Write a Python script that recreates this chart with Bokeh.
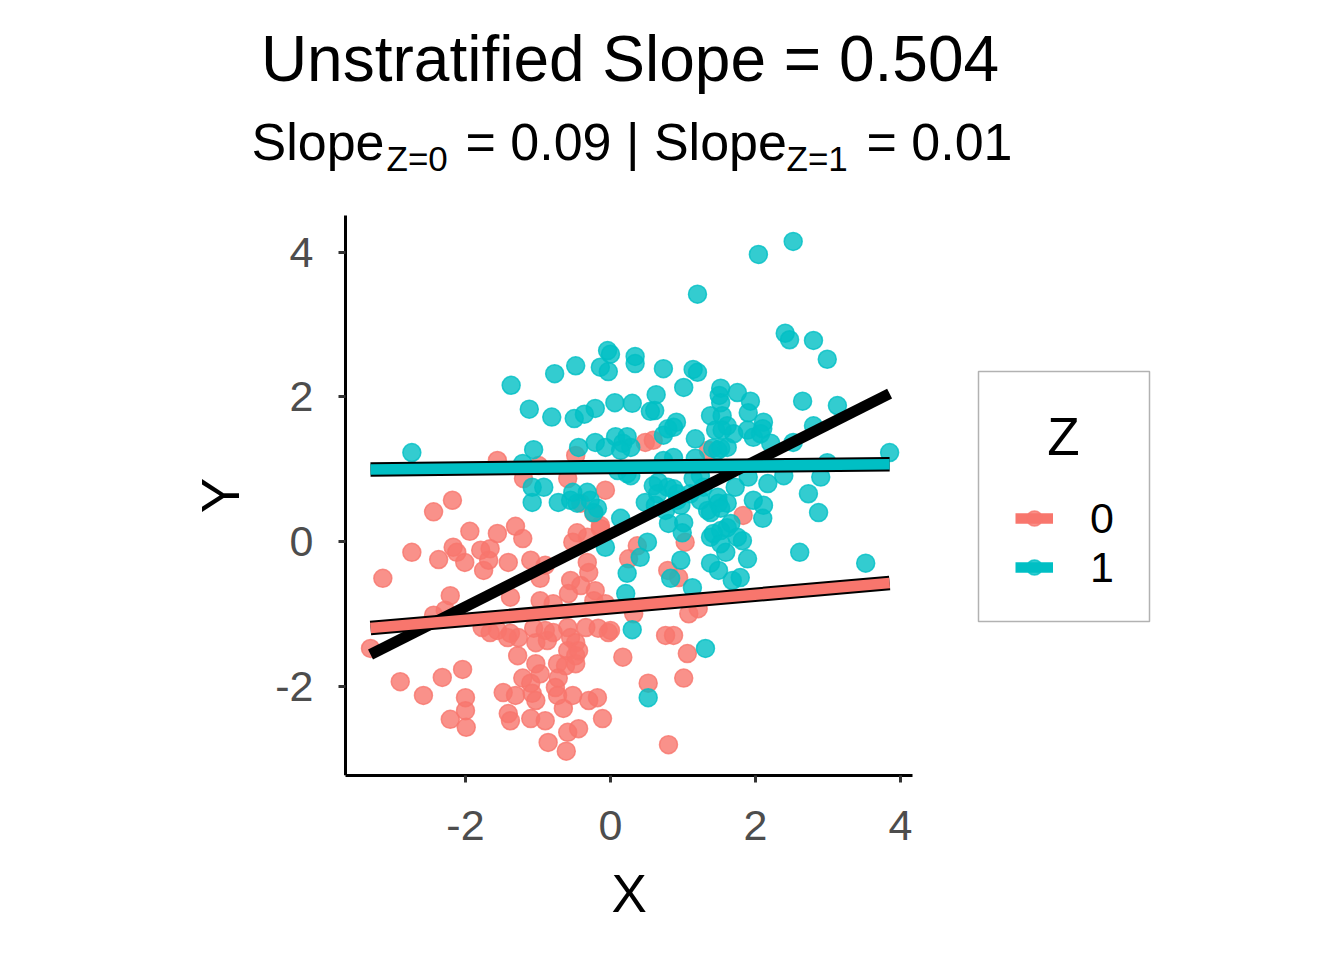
import numpy as np
from bokeh.plotting import figure
from bokeh.models import (Range1d, FixedTicker, PrintfTickFormatter, Label,
                          Legend, LegendItem, ColumnDataSource, BoxAnnotation,
                          Title)
from bokeh.embed import file_html
from bokeh.resources import INLINE

# ---------------- data ----------------
z0_x = [-1.56, -0.99, -1.20, -0.59, -0.48, -0.07, 0.48, 0.59, -0.41, 1.35,
        -0.23, -0.14, -0.32, 1.83, 1.03, 0.37, 0.25, 0.79, 0.94, 1.08,
        1.21, 0.32, 0.76, 0.87, 1.06, 0.17, 1.01, 0.52, 0.80, -1.56,
        -1.31, -1.21, -0.46, -0.52, -0.14, -1.41, -1.10, -0.90, -0.32, -0.30,
        -0.55, -0.41, -0.21, -0.58, -0.97, -0.79, -1.38, -0.23, -0.07, -1.56,
        -1.38, -1.06, -0.90, -1.03, -0.87, -0.79, -0.59, -0.55, -0.48, -0.34,
        -0.17, -0.03, -0.59, -0.48, -1.28, -1.03, -0.97, -0.73, -0.62, -0.48,
        -1.21, -0.72, -2.18, -2.44, -1.94, -2.74, -3.14, -2.37, -2.17, -2.12,
        -2.01, -1.79, -1.66, -1.75, -1.68, -0.97, -2.21, -2.28, -2.44, -3.31,
        -2.90, -2.58, -2.32, -2.04, -2.21, -2.00, -2.00, -1.99, -1.77, -1.66,
        -1.48, -1.31, -1.41, -1.38, -1.10, -1.08, -1.03, -0.76, -0.73, -0.52,
        -0.65, -1.10, -0.90, -0.30, -0.18, -0.11, -0.59, -0.44, -0.86, -0.61,
        0.00, -0.44, -1.27, -1.42]
z0_y = [1.12, 1.05, 0.87, 0.87, 1.19, 0.71, 1.37, 1.40, 0.53, 1.26,
        0.39, 0.18, 0.06, 0.36, -0.01, -0.06, -0.24, -0.40, -0.50, -1.00,
        -0.93, -1.00, -1.30, -1.30, -1.55, -1.60, -1.89, -1.96, -2.81, 0.11,
        0.21, 0.04, 0.12, -0.01, 0.22, -0.29, -0.26, -0.33, -0.29, -0.43,
        -0.54, -0.61, -0.68, -0.72, -0.82, -0.86, -0.77, -0.82, -0.86, -1.23,
        -1.27, -1.20, -1.23, -1.40, -1.37, -1.26, -1.19, -1.33, -1.40, -1.19,
        -1.20, -1.26, -1.51, -1.58, -1.58, -1.69, -1.83, -1.69, -1.72, -1.69,
        -1.89, -1.89, 0.57, 0.41, 0.14, -0.15, -0.51, -0.25, -0.08, -0.15,
        -0.29, -0.12, -0.10, -0.40, -0.26, -0.51, -0.75, -0.95, -1.02, -1.48,
        -1.94, -2.13, -1.88, -1.77, -2.46, -2.16, -2.34, -2.57, -1.19, -1.26,
        -2.09, -2.13, -2.38, -2.48, -1.96, -2.10, -2.20, -2.02, -2.13, -2.13,
        -2.31, -2.45, -2.48, -2.20, -2.16, -2.45, -2.64, -2.59, -2.78, -2.90,
        -1.23, -1.51, -1.33, -1.33]

z1_x = [2.52, 2.04, 1.20, 2.41, 2.47, 2.80, 2.99, -1.37, -0.77, -0.48,
        -0.04, 0.00, -0.14, -0.03, 0.34, 0.34, 0.73, 1.14, 1.20, 1.01,
        0.63, 0.55, 0.61, -1.12, -0.81, -0.50, -0.36, -0.21, 0.06, 0.30,
        0.91, 1.52, 1.50, 1.52, 1.75, 1.93, 1.90, 1.38, 1.54, 2.11,
        2.65, 3.13, 2.80, 1.45, 1.61, 1.70, 1.89, 1.97, 2.07, 1.17,
        0.73, 0.79, 1.52, 1.41, 2.21, 2.52, 3.85, 2.99, 2.90, 2.39,
        1.90, 1.72, 1.14, 1.24, 0.66, 0.79, 0.87, 0.28, -2.74, -1.06,
        -0.44, -0.21, -0.07, 0.07, 0.23, 0.17, 0.28, -1.21, -1.08, -0.92,
        -1.08, -0.32, -0.72, -0.55, -0.46, -0.18, 0.10, 0.23, 0.48, 0.59,
        0.65, 0.87, 1.17, 0.73, 2.73, 1.48, 1.61, 1.10, 1.24, 0.92,
        1.97, 2.11, 2.87, 2.61, 3.52, 0.80, 1.01, 0.99, 1.38, 1.49,
        1.38, 1.52, 1.59, 1.66, 1.82, 1.89, 2.10, 1.38, 1.49, 1.68,
        1.79, 0.51, 0.41, 0.14, 0.23, 0.83, 0.97, 1.13, 0.21, 0.30,
        1.31, 0.52, -0.23, -0.07, -0.52, 0.14, 0.87, 1.54, 2.10, 1.48,
        1.61, -0.28, 0.92, 0.62, 0.76, 0.97, 1.28, 1.34, 1.52, 2.17,
        1.61, 1.42, 1.75, 1.52]
z1_y = [4.15, 3.97, 3.42, 2.88, 2.79, 2.78, 2.52, 2.16, 2.32, 2.43,
        2.64, 2.59, 2.41, 2.35, 2.56, 2.46, 2.39, 2.38, 2.34, 2.13,
        2.03, 1.80, 1.81, 1.83, 1.72, 1.70, 1.76, 1.84, 1.92, 1.91,
        1.65, 2.12, 2.02, 1.92, 2.06, 1.94, 1.78, 1.74, 1.74, 1.65,
        1.94, 1.88, 1.60, 1.54, 1.60, 1.49, 1.54, 1.44, 1.49, 1.42,
        1.47, 1.56, 1.29, 1.29, 1.36, 1.37, 1.23, 1.09, 0.89, 0.91,
        0.89, 0.75, 0.87, 0.91, 0.82, 0.75, 0.73, 0.91, 1.23, 1.27,
        1.30, 1.37, 1.30, 1.45, 1.45, 1.36, 1.30, 1.08, 0.75, 0.75,
        0.54, 0.68, 0.54, 0.57, 0.53, 0.46, 0.98, 0.94, 0.54, 0.77,
        0.66, 1.16, 1.15, 1.12, 0.66, 0.61, 0.53, 0.66, 0.57, 0.66,
        0.57, 0.50, 0.40, -0.15, -0.30, 0.25, 0.26, 0.12, 0.40, 0.53,
        0.06, 0.15, -0.15, 0.25, 0.01, -0.24, 0.32, -0.30, -0.40, -0.54,
        -0.50, -0.01, -0.22, 0.32, -0.44, -0.51, -0.26, -0.64, -0.72, -1.22,
        -1.48, -2.16, 0.40, -0.08, 0.68, 1.26, 1.58, 1.54, 1.56, 1.26,
        1.30, 0.57, 0.57, 0.50, 0.43, 0.50, 0.75, 0.43, 0.46, 0.80,
        0.19, 0.11, 0.06, -0.03]

# fitted lines (slope, intercept)
fit_all = (0.504, 0.105)
fit_z0 = (0.087, -0.91)
fit_z1 = (0.0102, 1.03)

x_ticks = [-2, 0, 2, 4]
y_ticks = [-2, 0, 2, 4]
x_lim = (-3.655, 4.166)     # extent of the data panel
y_lim = (-3.237, 4.509)
group_labels = ["0", "1"]
legend_title = "Z"
x_title, y_title = "X", "Y"

title_text = "Unstratified Slope = 0.504"
sub_pieces = ["Slope", "Z=0", "= 0.09 | Slope", "Z=1", "= 0.01"]

# ---------------- styling / layout ----------------
FONT = "Liberation Sans"
RED = "#F8766D"
TEAL = "#00BFC4"
W, H = 1336, 952
PX_X, PX_Y = 72.5, 72.3           # pixels per data unit
FRAME_L, FRAME_B = 185, 775       # frame spans the canvas (except left/bottom borders)
AX_L = 345                        # page x of the y-axis line

x0 = x_lim[0] - (AX_L - FRAME_L) / PX_X
x1 = x0 + (W - FRAME_L) / PX_X
y0 = y_lim[0]
y1 = y0 + FRAME_B / PX_Y

p = figure(width=W, height=H, output_backend="svg", toolbar_location=None,
           x_range=Range1d(x0, x1), y_range=Range1d(y0, y1),
           min_border_left=FRAME_L, min_border_right=0,
           min_border_top=0, min_border_bottom=H - FRAME_B)
p.outline_line_color = None
p.grid.visible = False
p.background_fill_color = "white"
p.border_fill_color = "white"

for ax, ticks, lim in ((p.xaxis, x_ticks, x_lim), (p.yaxis, y_ticks, y_lim)):
    ax.ticker = FixedTicker(ticks=ticks)
    ax.formatter = PrintfTickFormatter(format="%d")
    ax.bounds = lim
    ax.axis_line_color = "black"
    ax.axis_line_width = 3
    ax.major_tick_line_color = "#333333"
    ax.major_tick_line_width = 3
    ax.major_tick_out = 7
    ax.major_tick_in = 0
    ax.minor_tick_line_color = None
    ax.major_label_text_font = FONT
    ax.major_label_text_font_size = "43px"
    ax.major_label_text_color = "#4D4D4D"
    ax.axis_label_text_font = FONT
    ax.axis_label_text_font_size = "53px"
    ax.axis_label_text_font_style = "normal"
    ax.axis_label_text_color = "black"
p.xaxis.major_label_standoff = 28
p.yaxis.major_label_standoff = 25
p.yaxis.axis_label = y_title
p.yaxis.axis_label_standoff = 22
p.yaxis.fixed_location = x_lim[0]

# x-axis title: placed under the axis, centred on the data panel
x_title_w = 35
p.add_layout(Title(text=x_title, align="left",
                   offset=(AX_L + 912) / 2 - x_title_w / 2 - FRAME_L,
                   vertical_align="top", text_font=FONT,
                   text_font_size="53px", text_font_style="normal",
                   text_color="black", standoff=42), "below")

src0 = ColumnDataSource(dict(x=z0_x, y=z0_y))
src1 = ColumnDataSource(dict(x=z1_x, y=z1_y))
pts0 = p.scatter("x", "y", source=src0, size=18, fill_color=RED, line_color=RED,
                 fill_alpha=0.8, line_alpha=0.8, line_width=1.5)
pts1 = p.scatter("x", "y", source=src1, size=18, fill_color=TEAL, line_color=TEAL,
                 fill_alpha=0.8, line_alpha=0.8, line_width=1.5)

all_x = np.array(z0_x + z1_x)
xr = np.array([all_x.min(), all_x.max()])

p.line(xr, fit_all[1] + fit_all[0] * xr, line_color="black", line_width=11)

p.line(xr, fit_z0[1] + fit_z0[0] * xr, line_color="black", line_width=14.5)
ln0 = p.line(xr, fit_z0[1] + fit_z0[0] * xr, line_color=RED, line_width=10.5)
p.line(xr, fit_z1[1] + fit_z1[0] * xr, line_color="black", line_width=14.5)
ln1 = p.line(xr, fit_z1[1] + fit_z1[0] * xr, line_color=TEAL, line_width=10.5)

# ---- legend: frame box + centred title + entries ----
def px2x(px):
    return x_lim[0] + (px - AX_L) / PX_X

def py2y(py):
    return y0 + (FRAME_B - py) / PX_Y

p.add_layout(BoxAnnotation(left=px2x(978), right=px2x(1149),
                           top=py2y(371), bottom=py2y(621),
                           fill_alpha=0, line_color="black", line_width=1.5))
p.add_layout(Label(x=1063 - FRAME_L, y=FRAME_B - 436, x_units="screen",
                   y_units="screen", text=legend_title, text_font=FONT,
                   text_font_size="53px", text_color="black",
                   text_align="center", text_baseline="alphabetic"))
legend = Legend(items=[LegendItem(label=group_labels[0], renderers=[ln0, pts0]),
                       LegendItem(label=group_labels[1], renderers=[ln1, pts1])],
                location=(1015 - FRAME_L, FRAME_B - 591.5),
                label_text_font=FONT, label_text_font_size="43px",
                label_text_color="black",
                glyph_width=38, glyph_height=40, label_standoff=37,
                padding=0, spacing=0, margin=0,
                border_line_color=None, background_fill_alpha=0.0)
p.add_layout(legend, "center")

# ---- title and subtitle (screen units from frame bottom-left) ----
p.add_layout(Label(x=629.5 - FRAME_L, y=FRAME_B - 58, x_units="screen",
                   y_units="screen", text=title_text, text_font=FONT,
                   text_font_size="64px", text_color="black",
                   text_align="center", text_baseline="alphabetic"))
sub_x = [251, 386, 465, 786, 866]
sub_y = [141, 158, 141, 158, 141]
sub_size = ["52px", "35px", "52px", "35px", "52px"]
for t, sx, sy, fs in zip(sub_pieces, sub_x, sub_y, sub_size):
    p.add_layout(Label(x=sx - FRAME_L, y=FRAME_B - sy, x_units="screen",
                       y_units="screen", text=t, text_font=FONT,
                       text_font_size=fs, text_color="black",
                       text_align="left", text_baseline="alphabetic"))

open("out.html", "w").write(file_html(p, INLINE))
